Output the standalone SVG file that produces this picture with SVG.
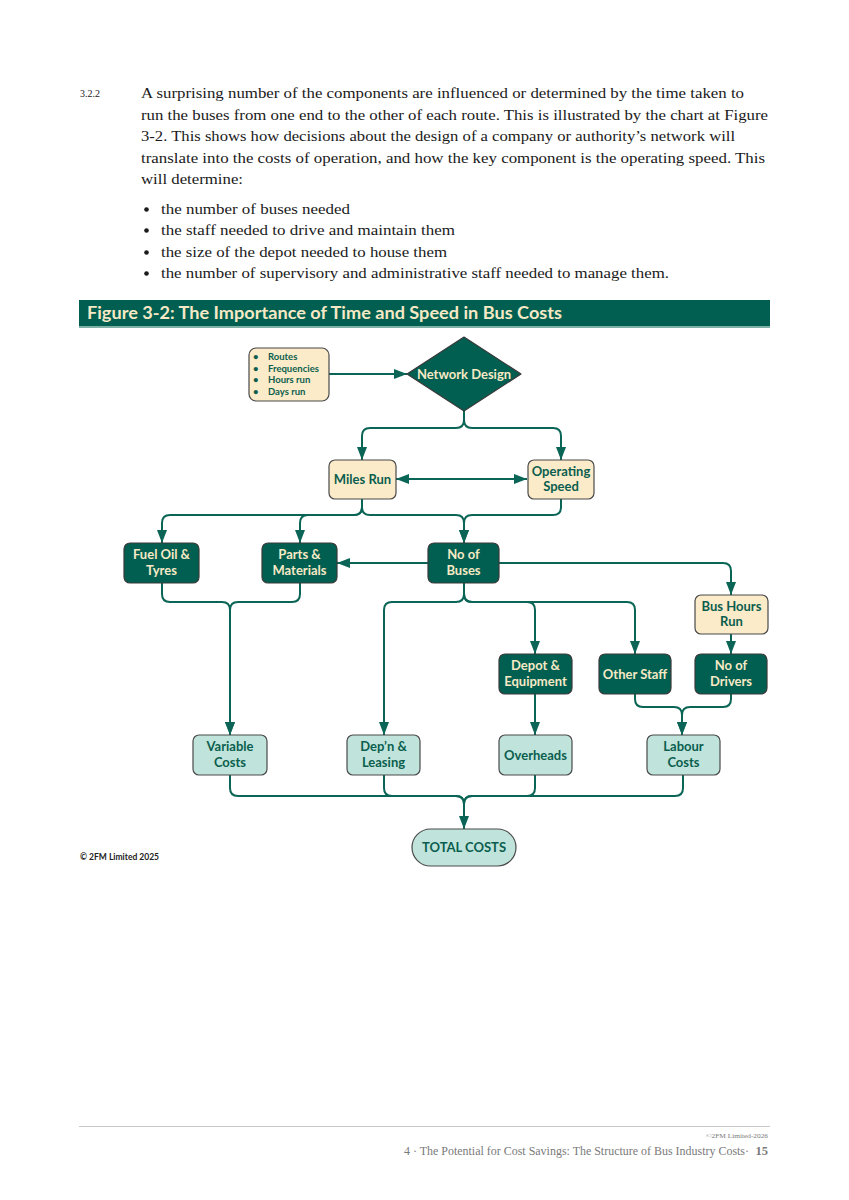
<svg xmlns="http://www.w3.org/2000/svg" width="849" height="1200" viewBox="0 0 849 1200">
<style>
.body{font-family:"Liberation Serif",serif;font-size:15.5px;fill:#1a1a1a}
.num{font-family:"Liberation Serif",serif;font-size:10px;fill:#1a1a1a}
.title{font-family:Lato,"DejaVu Sans",sans-serif;font-weight:bold;font-size:16.5px;fill:#f6e9c6}
.dark rect,.dark path{fill:#005f50;stroke:#3a3a3a;stroke-width:1.2}
.cream rect{fill:#fbebc9;stroke:#4a4a4a;stroke-width:1.2}
.teal rect{fill:#c0e4dc;stroke:#4a4a4a;stroke-width:1.2}
.dark text{fill:#f6e9c6}
.cream text,.teal text{fill:#0b5e4e}
.lbl{font-family:Lato,"DejaVu Sans",sans-serif;font-weight:bold;font-size:13px;text-anchor:middle}
.small{font-family:Lato,"DejaVu Sans",sans-serif;font-weight:bold;font-size:9.5px}
.conn path{fill:none;stroke:#0b6556;stroke-width:2}
.foot{font-family:"Liberation Serif",serif;fill:#7a7a7a}
.dot{fill:#1a1a1a}
</style>
<defs>
<marker id="arr" markerUnits="userSpaceOnUse" markerWidth="13" markerHeight="10" refX="13" refY="5" orient="auto">
<path d="M0,0 L13,5 L0,10 z" fill="#0b6556"/>
</marker>
<marker id="arrs" markerUnits="userSpaceOnUse" markerWidth="13" markerHeight="10" refX="0" refY="5" orient="auto">
<path d="M13,0 L0,5 L13,10 z" fill="#0b6556"/>
</marker>
</defs>
<rect width="849" height="1200" fill="#ffffff"/>

<g id="paragraph">
<text class="num" x="80" y="97">3.2.2</text>
<text class="body" x="141" y="98" textLength="603" lengthAdjust="spacingAndGlyphs">A surprising number of the components are influenced or determined by the time taken to</text>
<text class="body" x="141" y="120" textLength="627" lengthAdjust="spacingAndGlyphs">run the buses from one end to the other of each route. This is illustrated by the chart at Figure</text>
<text class="body" x="141" y="141" textLength="594" lengthAdjust="spacingAndGlyphs">3-2. This shows how decisions about the design of a company or authority’s network will</text>
<text class="body" x="141" y="163" textLength="624" lengthAdjust="spacingAndGlyphs">translate into the costs of operation, and how the key component is the operating speed. This</text>
<text class="body" x="141" y="184" textLength="102" lengthAdjust="spacingAndGlyphs">will determine:</text>
<circle class="dot" cx="146.5" cy="209.5" r="2.3"/>
<circle class="dot" cx="146.5" cy="230.5" r="2.3"/>
<circle class="dot" cx="146.5" cy="252.5" r="2.3"/>
<circle class="dot" cx="146.5" cy="273.5" r="2.3"/>
<g class="body">
<text x="161" y="214" textLength="189" lengthAdjust="spacingAndGlyphs">the number of buses needed</text>
<text x="161" y="235" textLength="294" lengthAdjust="spacingAndGlyphs">the staff needed to drive and maintain them</text>
<text x="161" y="257" textLength="286" lengthAdjust="spacingAndGlyphs">the size of the depot needed to house them</text>
<text x="161" y="278" textLength="508" lengthAdjust="spacingAndGlyphs">the number of supervisory and administrative staff needed to manage them.</text>
</g>
</g>

<g id="figure-title">
<rect x="79" y="300" width="691" height="26" fill="#005f51"/>
<rect x="79" y="326" width="691" height="2" fill="#7fb0a6"/>
<text class="title" x="87" y="319" textLength="475" lengthAdjust="spacingAndGlyphs">Figure 3-2: The Importance of Time and Speed in Bus Costs</text>
</g>

<g class="conn" id="connectors">
<path d="M329,374 H407" marker-end="url(#arr)"/>
<path d="M464,410 V420 Q464,428 456,428 H370 Q362,428 362,436 V460" marker-end="url(#arr)"/>
<path d="M464,420 Q464,428 472,428 H553 Q561,428 561,436 V460" marker-end="url(#arr)"/>
<path d="M396,479 H527" marker-start="url(#arrs)" marker-end="url(#arr)"/>
<path d="M362,499 V507 Q362,515 354,515 H170 Q162,515 162,523 V543" marker-end="url(#arr)"/>
<path d="M362,507 Q362,515 354,515 H308 Q300,515 300,523 V543" marker-end="url(#arr)"/>
<path d="M362,507 Q362,515 370,515 H456 Q464,515 464,523 V543" marker-end="url(#arr)"/>
<path d="M561,499 V507 Q561,515 553,515 H472 Q464,515 464,523 V543" marker-end="url(#arr)"/>
<path d="M428,563 H337" marker-end="url(#arr)"/>
<path d="M499,563 H723 Q731,563 731,571 V595" marker-end="url(#arr)"/>
<path d="M464,583 V594 Q464,602 456,602 H392 Q384,602 384,610 V735" marker-end="url(#arr)"/>
<path d="M464,594 Q464,602 472,602 H527 Q535,602 535,610 V654" marker-end="url(#arr)"/>
<path d="M464,594 Q464,602 472,602 H627 Q635,602 635,610 V654" marker-end="url(#arr)"/>
<path d="M731,634 V654" marker-end="url(#arr)"/>
<path d="M162,583 V594 Q162,602 170,602 H222 Q230,602 230,610 V735" marker-end="url(#arr)"/>
<path d="M300,583 V594 Q300,602 292,602 H238 Q230,602 230,610 V735" marker-end="url(#arr)"/>
<path d="M535,694 V735" marker-end="url(#arr)"/>
<path d="M635,694 V699 Q635,707 643,707 H674 Q682,707 682,715 V735" marker-end="url(#arr)"/>
<path d="M731,694 V699 Q731,707 723,707 H690 Q682,707 682,715 V735" marker-end="url(#arr)"/>
<path d="M230,775 V788 Q230,796 238,796 H456 Q464,796 464,804 V829" marker-end="url(#arr)"/>
<path d="M384,775 V788 Q384,796 392,796 H456 Q464,796 464,804 V829"/>
<path d="M535,775 V788 Q535,796 527,796 H472 Q464,796 464,804 V829"/>
<path d="M683,775 V788 Q683,796 675,796 H472 Q464,796 464,804 V829"/>
</g>

<g id="inputs" class="cream">
<rect x="249" y="348" width="80" height="53" rx="7"/>
<g class="small">
<text x="253" y="360">•</text><text x="268" y="360">Routes</text>
<text x="253" y="371.5">•</text><text x="268" y="371.5">Frequencies</text>
<text x="253" y="383">•</text><text x="268" y="383">Hours run</text>
<text x="253" y="394.5">•</text><text x="268" y="394.5">Days run</text>
</g>
</g>

<g id="network-design" class="dark">
<path d="M464,337 L521,374 L464,411 L407,374 Z" stroke-linejoin="round" stroke-width="1.2"/>
<text class="lbl" x="464" y="378.5">Network Design</text>
</g>

<g id="miles-run" class="cream">
<rect x="329" y="460" width="67" height="39" rx="6"/>
<text class="lbl" x="362.5" y="484">Miles Run</text>
</g>
<g id="operating-speed" class="cream">
<rect x="528" y="460" width="66" height="39" rx="6"/>
<text class="lbl" x="561" y="476">Operating</text>
<text class="lbl" x="561" y="491">Speed</text>
</g>

<g id="fuel" class="dark">
<rect x="124" y="543" width="75" height="40" rx="6"/>
<text class="lbl" x="161.5" y="559">Fuel Oil &amp;</text>
<text class="lbl" x="161.5" y="575">Tyres</text>
</g>
<g id="parts" class="dark">
<rect x="262" y="543" width="75" height="40" rx="6"/>
<text class="lbl" x="299.5" y="559">Parts &amp;</text>
<text class="lbl" x="299.5" y="575">Materials</text>
</g>
<g id="buses" class="dark">
<rect x="428" y="543" width="71" height="40" rx="6"/>
<text class="lbl" x="463.5" y="559">No of</text>
<text class="lbl" x="463.5" y="575">Buses</text>
</g>
<g id="bus-hours" class="cream">
<rect x="695" y="595" width="73" height="39" rx="6"/>
<text class="lbl" x="731.5" y="611">Bus Hours</text>
<text class="lbl" x="731.5" y="626">Run</text>
</g>
<g id="depot" class="dark">
<rect x="499" y="654" width="73" height="40" rx="6"/>
<text class="lbl" x="535.5" y="670">Depot &amp;</text>
<text class="lbl" x="535.5" y="686">Equipment</text>
</g>
<g id="other-staff" class="dark">
<rect x="599" y="654" width="72" height="40" rx="6"/>
<text class="lbl" x="635" y="678.5">Other Staff</text>
</g>
<g id="drivers" class="dark">
<rect x="695" y="654" width="72" height="40" rx="6"/>
<text class="lbl" x="731" y="670">No of</text>
<text class="lbl" x="731" y="686">Drivers</text>
</g>

<g id="variable-costs" class="teal">
<rect x="193" y="735" width="74" height="40" rx="6"/>
<text class="lbl" x="230" y="751">Variable</text>
<text class="lbl" x="230" y="767">Costs</text>
</g>
<g id="depn-leasing" class="teal">
<rect x="347" y="735" width="73" height="40" rx="6"/>
<text class="lbl" x="383.5" y="751">Dep’n &amp;</text>
<text class="lbl" x="383.5" y="767">Leasing</text>
</g>
<g id="overheads" class="teal">
<rect x="499" y="735" width="73" height="40" rx="6"/>
<text class="lbl" x="535.5" y="759.5">Overheads</text>
</g>
<g id="labour-costs" class="teal">
<rect x="647" y="735" width="73" height="40" rx="6"/>
<text class="lbl" x="683.5" y="751">Labour</text>
<text class="lbl" x="683.5" y="767">Costs</text>
</g>
<g id="total-costs" class="teal">
<rect x="412" y="829" width="104" height="37" rx="18.5"/>
<text class="lbl" x="464" y="851.5">TOTAL COSTS</text>
</g>

<text x="80" y="860" font-family="Lato,'DejaVu Sans',sans-serif" font-weight="bold" font-size="8.5" fill="#222">© 2FM Limited 2025</text>

<g id="footer">
<rect x="79" y="1126" width="691" height="1" fill="#c8c8c8"/>
<text class="foot" x="706" y="1138" font-size="6.5" textLength="62" lengthAdjust="spacingAndGlyphs">©2FM Limited-2026</text>
<text class="foot" x="404" y="1155" font-size="11.5" textLength="345" lengthAdjust="spacingAndGlyphs">4 ·  The Potential for Cost Savings: The Structure of Bus Industry Costs·</text>
<text class="foot" x="768" y="1155" font-size="12.5" font-weight="bold" text-anchor="end" fill="#5a5a5a">15</text>
</g>
</svg>
